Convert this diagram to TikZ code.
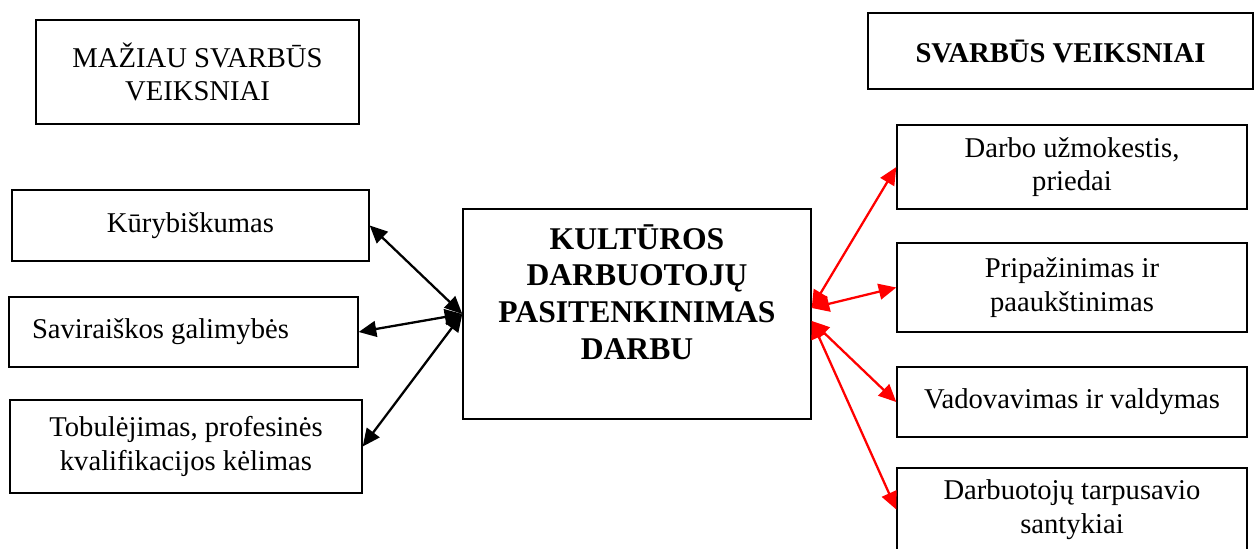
\documentclass[tikz,border=0pt]{standalone}
\usepackage{fontspec}
\setmainfont{Liberation Serif}
\usetikzlibrary{arrows.meta}

\begin{document}
\begin{tikzpicture}[>={Triangle[length=10pt, width=9pt]},
	box/.style={draw, line width=0.8pt, inner sep=0pt, align=center, font=\fontsize{16.3}{19}\selectfont},
	link/.style={<->, line width=1.3pt}]
	\useasboundingbox (0, 0) rectangle (25.1, -10.98);
	\clip (0, 0) rectangle (25.1, -10.98);

	% headings
	\node[box, minimum width=6.46cm, minimum height=2.08cm] (minor) at (3.95, -1.44) {MAŽIAU SVARBŪS\\VEIKSNIAI};
	\node[box, font=\fontsize{16.3}{19}\selectfont\bfseries, minimum width=7.7cm, minimum height=1.52cm] (major) at (21.21, -1.02) {SVARBŪS VEIKSNIAI};

	% left column
	\node[box, minimum width=7.14cm, minimum height=1.42cm] (creat) at (3.81, -4.51) {Kūrybiškumas};
	\node[box, align=flush left, text width=6.06cm, inner xsep=0.46cm, minimum height=1.4cm] (expr) at (3.67, -6.64) {Saviraiškos galimybės};
	\node[box, minimum width=7.04cm, minimum height=1.86cm] (growth) at (3.72, -8.93) {Tobulėjimas, profesinės\\kvalifikacijos kėlimas};

	% centre
	\node[box, minimum width=6.96cm, minimum height=4.2cm] (centre) at (12.74, -6.28) {};
	\node[align=center, inner sep=0pt, font=\fontsize{18}{20.8}\selectfont\bfseries] (centretitle) at ([yshift=0.44cm]centre.center) {KULTŪROS\\DARBUOTOJŲ\\PASITENKINIMAS\\DARBU};

	% right column
	\node[box, minimum width=7cm, minimum height=1.68cm] (pay) at (21.44, -3.34) {Darbo užmokestis,\\priedai};
	\node[box, minimum width=7cm, minimum height=1.78cm] (recog) at (21.44, -5.75) {Pripažinimas ir\\paaukštinimas};
	\node[box, minimum width=7cm, minimum height=1.4cm] (lead) at (21.44, -8.04) {Vadovavimas ir valdymas};
	\node[box, minimum width=7cm, minimum height=1.66cm] (relations) at (21.44, -10.19) {Darbuotojų tarpusavio\\santykiai};

	\foreach \n in {creat, expr, growth}
		\draw[link] (\n.east) -- (centre.west);

	\draw[link, red] ([yshift=0.12cm]centre.east) -- (pay.west);
	\draw[link, red] ([yshift=0.12cm]centre.east) -- (recog.west);
	\draw[link, red] ([yshift=-0.14cm]centre.east) -- (lead.west);
	\draw[link, red] ([yshift=-0.14cm]centre.east) -- (relations.west);
\end{tikzpicture}
\end{document}
